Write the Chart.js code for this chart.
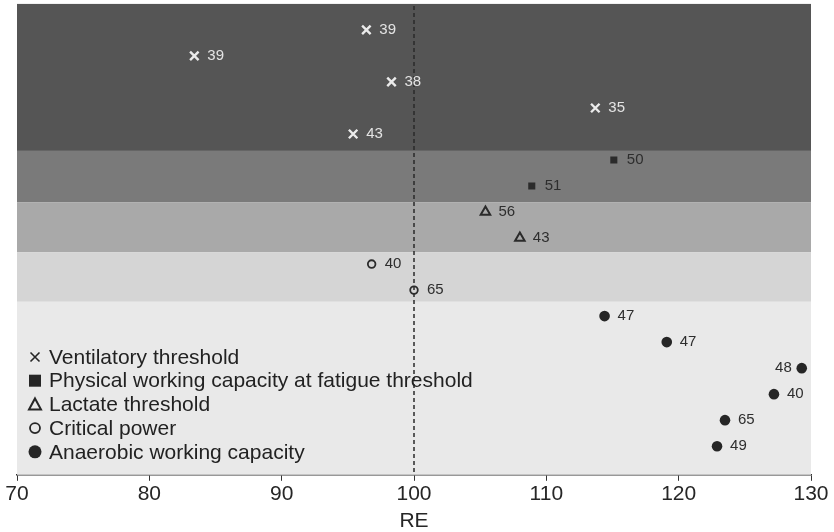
<!DOCTYPE html>
<html>
<head>
<meta charset="utf-8">
<script src="https://cdn.jsdelivr.net/npm/chart.js@4"></script>
<style>
    html, body { margin: 0; padding: 0; background: #fff; }
    #wrap { width: 834px; height: 532px; }
</style>
</head>
<body>
<div id="wrap"><canvas id="reChart"></canvas></div>
<script>
// Data (RE value, row, n)
const ventRE = [96.4, 83.4, 98.3, 113.7, 95.4];
const ventRow = [1, 2, 3, 4, 5];
const ventN = [39, 39, 38, 35, 43];

const pwcRE = [115.1, 108.9];
const pwcRow = [6, 7];
const pwcN = [50, 51];

const lactRE = [105.4, 108.0];
const lactRow = [8, 9];
const lactN = [56, 43];

const cpRE = [96.8, 100.0];
const cpRow = [10, 11];
const cpN = [40, 65];

const awcRE = [114.4, 119.1, 129.3, 127.2, 123.5, 122.9];
const awcRow = [12, 13, 14, 15, 16, 17];
const awcN = [47, 47, 48, 40, 65, 49];

const legendLabels = [
    'Ventilatory threshold',
    'Physical working capacity at fatigue threshold',
    'Lactate threshold',
    'Critical power',
    'Anaerobic working capacity'
];

// Shaded bands (row limits)
const bandEdges = [0, 5.65, 7.62, 9.55, 11.45, 18.1];
const bandColors = ['#555555', '#7a7a7a', '#a9a9a9', '#d5d5d5', '#e9e9e9'];

const FONT = '"Liberation Sans", Arial, Helvetica, sans-serif';

function toPoints(xs, ys) {
    return xs.map((x, i) => ({ x: x, y: ys[i] }));
}

// Draw background bands + dashed line at RE = 100
const bandPlugin = {
    id: 'bands',
    beforeDatasetsDraw(chart) {
        const ctx = chart.ctx;
        const area = chart.chartArea;
        const y = chart.scales.y;
        const x = chart.scales.x;
        ctx.save();
        for (let i = 0; i < bandColors.length; i++) {
            const top = y.getPixelForValue(bandEdges[i]);
            const bot = y.getPixelForValue(bandEdges[i + 1]);
            ctx.fillStyle = bandColors[i];
            ctx.fillRect(area.left, top, area.right - area.left, bot - top);
        }
        const px = x.getPixelForValue(100);
        ctx.strokeStyle = '#2a2a2a';
        ctx.lineWidth = 1.5;
        ctx.setLineDash([4, 3]);
        ctx.beginPath();
        ctx.moveTo(px, area.top);
        ctx.lineTo(px, area.bottom);
        ctx.stroke();
        ctx.restore();
    }
};

// n labels next to each point
const labelPlugin = {
    id: 'pointLabels',
    afterDatasetsDraw(chart) {
        const ctx = chart.ctx;
        ctx.save();
        ctx.font = '15px ' + FONT;
        ctx.textBaseline = 'middle';
        chart.data.datasets.forEach((ds, di) => {
            const meta = chart.getDatasetMeta(di);
            meta.data.forEach((el, i) => {
                const n = ds.counts[i];
                ctx.fillStyle = ds.labelColor;
                if (el.x > chart.chartArea.right - 30) {
                    ctx.textAlign = 'right';
                    ctx.fillText(n, el.x - 10, el.y);
                } else {
                    ctx.textAlign = 'left';
                    ctx.fillText(n, el.x + 13, el.y);
                }
            });
        });
        ctx.restore();
    }
};

// Legend inside the plot, bottom left
function drawMarker(ctx, style, cx, cy) {
    ctx.save();
    ctx.strokeStyle = '#262626';
    ctx.fillStyle = '#262626';
    ctx.lineWidth = 1.6;
    ctx.beginPath();
    if (style === 'cross') {
        ctx.moveTo(cx - 4.5, cy - 4.5); ctx.lineTo(cx + 4.5, cy + 4.5);
        ctx.moveTo(cx + 4.5, cy - 4.5); ctx.lineTo(cx - 4.5, cy + 4.5);
        ctx.stroke();
    } else if (style === 'square') {
        ctx.fillRect(cx - 6, cy - 6, 12, 12);
    } else if (style === 'triangle') {
        ctx.lineWidth = 2;
        ctx.moveTo(cx, cy - 6); ctx.lineTo(cx + 6, cy + 5); ctx.lineTo(cx - 6, cy + 5);
        ctx.closePath();
        ctx.stroke();
    } else if (style === 'open') {
        ctx.lineWidth = 1.8;
        ctx.arc(cx, cy, 5, 0, Math.PI * 2);
        ctx.stroke();
    } else {
        ctx.arc(cx, cy, 6.5, 0, Math.PI * 2);
        ctx.fill();
    }
    ctx.restore();
}

const legendPlugin = {
    id: 'insideLegend',
    afterDatasetsDraw(chart) {
        const ctx = chart.ctx;
        const styles = ['cross', 'square', 'triangle', 'open', 'filled'];
        const y0 = 357;
        const step = 23.7;
        ctx.save();
        ctx.font = '21px ' + FONT;
        ctx.fillStyle = '#222';
        ctx.textAlign = 'left';
        ctx.textBaseline = 'middle';
        legendLabels.forEach((t, i) => {
            const cy = y0 + i * step;
            drawMarker(ctx, styles[i], 35, cy);
            ctx.fillText(t, 49, cy + 1);
        });
        ctx.restore();
    }
};

const config = {
    type: 'scatter',
    data: {
        datasets: [
            {
                label: legendLabels[0],
                data: toPoints(ventRE, ventRow),
                counts: ventN,
                labelColor: '#e4e4e4',
                pointStyle: 'crossRot',
                pointRadius: 6,
                borderColor: '#ebebeb',
                borderWidth: 2.4
            },
            {
                label: legendLabels[1],
                data: toPoints(pwcRE, pwcRow),
                counts: pwcN,
                labelColor: '#2e2e2e',
                pointStyle: 'rect',
                pointRadius: 5,
                backgroundColor: '#2b2b2b',
                borderColor: '#2b2b2b',
                borderWidth: 0
            },
            {
                label: legendLabels[2],
                data: toPoints(lactRE, lactRow),
                counts: lactN,
                labelColor: '#2e2e2e',
                pointStyle: 'triangle',
                pointRadius: 5.5,
                backgroundColor: 'rgba(0,0,0,0)',
                borderColor: '#2b2b2b',
                borderWidth: 2
            },
            {
                label: legendLabels[3],
                data: toPoints(cpRE, cpRow),
                counts: cpN,
                labelColor: '#2e2e2e',
                pointStyle: 'circle',
                pointRadius: 3.8,
                backgroundColor: 'rgba(0,0,0,0)',
                borderColor: '#2b2b2b',
                borderWidth: 1.8
            },
            {
                label: legendLabels[4],
                data: toPoints(awcRE, awcRow),
                counts: awcN,
                labelColor: '#2e2e2e',
                pointStyle: 'circle',
                pointRadius: 5.3,
                backgroundColor: '#262626',
                borderColor: '#262626',
                borderWidth: 0
            }
        ]
    },
    options: {
        responsive: true,
        maintainAspectRatio: false,
        animation: false,
        layout: {
            autoPadding: false,
            padding: { left: 17, right: 23, top: 6, bottom: 0 }
        },
        plugins: {
            legend: { display: false },
            tooltip: { enabled: false }
        },
        scales: {
            x: {
                type: 'linear',
                min: 70,
                max: 130,
                ticks: {
                    stepSize: 10,
                    color: '#262626',
                    font: { family: FONT, size: 21 },
                    padding: 1
                },
                grid: {
                    display: true,
                    drawOnChartArea: false,
                    drawTicks: true,
                    tickLength: 6,
                    color: '#333'
                },
                border: { display: true, color: '#333', width: 1.5 },
                title: {
                    display: true,
                    text: 'RE',
                    color: '#262626',
                    font: { family: FONT, size: 21, lineHeight: 1 },
                    padding: { top: 3, bottom: 0 }
                }
            },
            y: {
                type: 'linear',
                display: false,
                reverse: true,
                min: 0.08,
                max: 18.1
            }
        }
    },
    plugins: [bandPlugin, labelPlugin, legendPlugin]
};

const reChart = new Chart(document.getElementById('reChart'), config);
</script>
</body>
</html>
